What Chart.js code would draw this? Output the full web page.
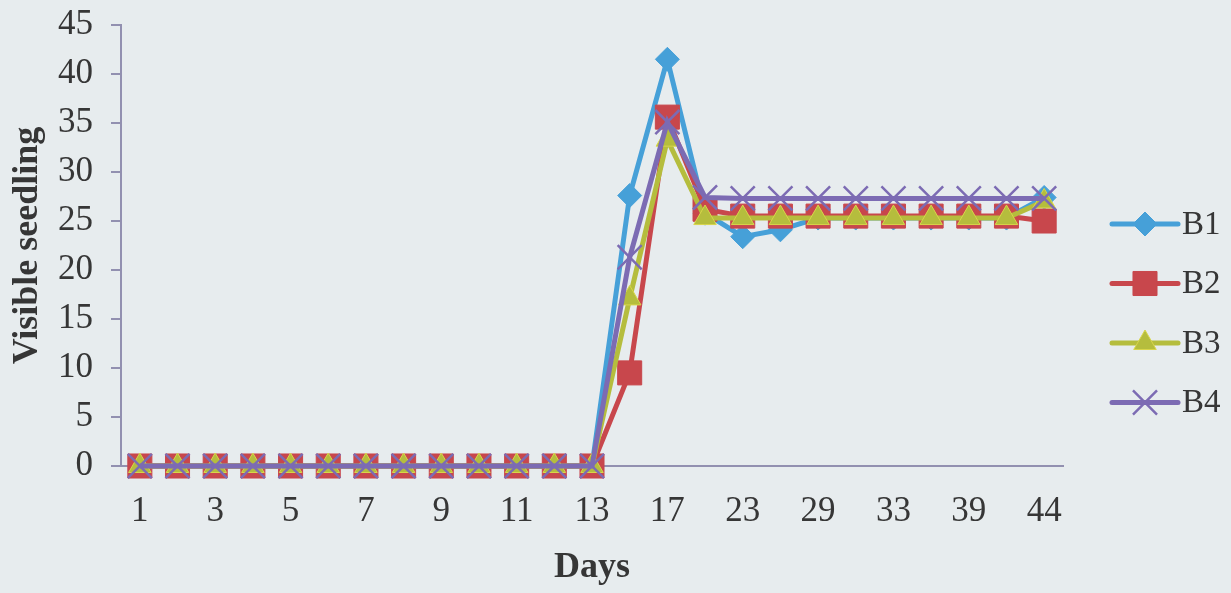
<!DOCTYPE html>
<html>
<head>
<meta charset="utf-8">
<script src="https://cdn.jsdelivr.net/npm/chart.js@4/dist/chart.umd.min.js"></script>
<style>
  html, body { margin: 0; padding: 0; background: #e7ecee; }
  canvas { display: block; }
</style>
</head>
<body>
<canvas id="chart" width="1231" height="593"></canvas>
<script>
// Sampling days (every other label is printed on the axis)
const days = ['1','2','3','4','5','6','7','8','9','10','11','12','13','15','17','20','23','26','29','31','33','36','39','42','44'];

// Visible seedlings per treatment
const b1 = [0,0,0,0,0,0,0,0,0,0,0,0,0, 27.6, 41.5, 25.8, 23.4, 24.1, 25.3, 25.3, 25.3, 25.3, 25.3, 25.3, 27.4];
const b2 = [0,0,0,0,0,0,0,0,0,0,0,0,0, 9.5, 35.6, 26.2, 25.5, 25.5, 25.5, 25.5, 25.5, 25.5, 25.5, 25.5, 25.0];
const b3 = [0,0,0,0,0,0,0,0,0,0,0,0,0, 17.1, 33.3, 25.3, 25.3, 25.3, 25.3, 25.3, 25.3, 25.3, 25.3, 25.3, 27.0];
const b4 = [0,0,0,0,0,0,0,0,0,0,0,0,0, 21.3, 35.1, 27.4, 27.3, 27.3, 27.3, 27.3, 27.3, 27.3, 27.3, 27.3, 27.3];

const seriesNames = ['B1', 'B2', 'B3', 'B4'];
const yTicks = [0, 5, 10, 15, 20, 25, 30, 35, 40, 45];

const AXIS = '#9290b0';
const TEXT = '#363636';
const SERIF = '"Liberation Serif", "Times New Roman", serif';

function series(label, data, color, style, radius, extra) {
  return Object.assign({
    label, data,
    borderColor: color,
    backgroundColor: color,
    borderWidth: 5,
    tension: 0,
    pointStyle: style,
    pointRadius: radius,
    pointHoverRadius: radius,
    pointBackgroundColor: color,
    pointBorderColor: color,
    pointBorderWidth: 1,
    clip: false
  }, extra || {});
}

// Legend on the right: a short line with the series marker, then the name
const sideLegend = {
  id: 'sideLegend',
  afterDraw(chart) {
    const ctx = chart.ctx;
    const x0 = chart.chartArea.right + 49;
    const top = 224, gap = 59.5;
    chart.data.datasets.forEach((ds, i) => {
      const y = top + i * gap;
      ctx.save();
      ctx.lineCap = 'round';
      ctx.strokeStyle = ds.borderColor;
      ctx.lineWidth = ds.borderWidth;
      ctx.beginPath();
      ctx.moveTo(x0, y);
      ctx.lineTo(x0 + 66, y);
      ctx.stroke();
      ctx.lineCap = 'butt';
      ctx.fillStyle = ds.pointBackgroundColor;
      ctx.strokeStyle = ds.pointBorderColor;
      ctx.lineWidth = ds.pointBorderWidth;
      Chart.helpers.drawPoint(ctx, {
        pointStyle: ds.pointStyle,
        radius: ds.pointRadius,
        rotation: 0,
        borderWidth: ds.pointBorderWidth
      }, x0 + 33, y);
      ctx.fillStyle = TEXT;
      ctx.font = '33px ' + SERIF;
      ctx.textBaseline = 'middle';
      ctx.textAlign = 'left';
      ctx.fillText(ds.label, x0 + 70, y + 1);
      ctx.restore();
    });
  }
};

new Chart(document.getElementById('chart'), {
  type: 'line',
  data: {
    labels: days,
    datasets: [
      series(seriesNames[0], b1, '#46a0d8', 'rectRot', 12, { order: 3 }),
      series(seriesNames[1], b2, '#c8474c', 'rect', 17, { order: 2 }),
      series(seriesNames[2], b3, '#b5bd3d', 'triangle', 13, { order: 1, pointBorderColor: '#d8d64a' }),
      series(seriesNames[3], b4, '#7c6bb3', 'crossRot', 17, { order: 0, pointBorderWidth: 2.5 })
    ]
  },
  options: {
    responsive: false,
    animation: false,
    events: [],
    layout: { padding: { top: 25, right: 168, bottom: 0, left: 0 } },
    plugins: {
      legend: { display: false },
      tooltip: { enabled: false }
    },
    scales: {
      x: {
        type: 'category',
        offset: true,
        border: { display: true, color: AXIS, width: 2 },
        grid: { display: true, drawOnChartArea: false, drawTicks: false },
        ticks: {
          autoSkip: false,
          maxRotation: 0,
          padding: 25,
          color: TEXT,
          font: { family: SERIF, size: 35 },
          callback: function (value, index) {
            return index % 2 === 0 ? this.getLabelForValue(value) : '';
          }
        },
        title: {
          display: true,
          text: 'Days',
          color: TEXT,
          font: { family: SERIF, size: 36, weight: 'bold' },
          padding: { top: 0, bottom: 4 }
        },
        afterFit(scale) { scale.height = 127; scale.paddingLeft = 0; scale.paddingRight = 0; }
      },
      y: {
        min: 0,
        max: 45,
        afterBuildTicks(scale) { scale.ticks = yTicks.map(v => ({ value: v })); },
        border: { display: true, color: AXIS, width: 2 },
        grid: { display: true, drawOnChartArea: false, drawTicks: true, tickLength: 10, color: AXIS, lineWidth: 2 },
        ticks: {
          padding: 18,
          color: TEXT,
          font: { family: SERIF, size: 35 }
        },
        title: {
          display: true,
          text: 'Visible seedling',
          color: TEXT,
          font: { family: SERIF, size: 36, weight: 'bold' },
          padding: { top: 6, bottom: 0 }
        },
        afterFit(scale) { scale.width = 121; scale.paddingTop = 0; scale.paddingBottom = 0; }
      }
    }
  },
  plugins: [sideLegend]
});
</script>
</body>
</html>
